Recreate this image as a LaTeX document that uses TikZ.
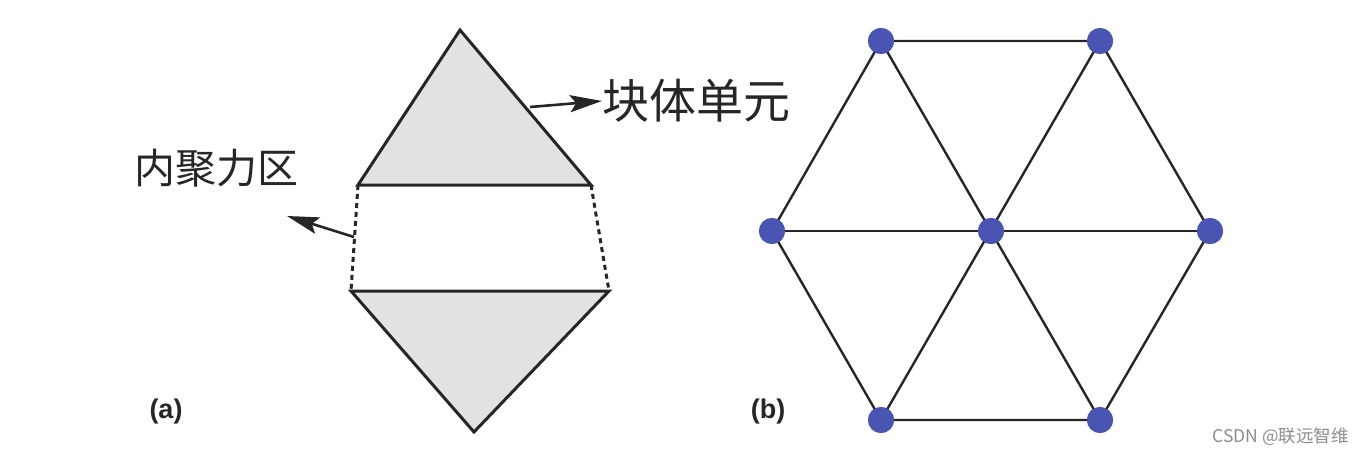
\documentclass[tikz,border=0pt]{standalone}
\usepackage{fontspec}
\setmainfont{Liberation Sans}
\newfontfamily\cjk{Noto Sans CJK SC}
\usetikzlibrary{arrows.meta}
\definecolor{nodeblue}{HTML}{4A55B3}
\definecolor{fillgray}{HTML}{E1E2E4}
\tikzset{
  edge/.style={line width=2.4pt, draw=black!85},
  tri/.style={line width=3pt, draw=black!85, fill=fillgray, line join=miter},
  dashedge/.style={line width=3pt, draw=black!85, dash pattern=on 5pt off 4pt},
  pointer/.style={line width=2.6pt, draw=black!85, -{Stealth[length=32pt,width=17pt,inset=6pt]}},
  vtx/.style={circle, fill=nodeblue, minimum size=26pt, inner sep=0pt},
  lbl/.style={font=\cjk\fontsize{41}{44}\selectfont, text=black!85, inner sep=0pt},
  tag/.style={font=\bfseries\fontsize{27}{30}\selectfont, text=black!85, inner sep=0pt}
}
\begin{document}
\begin{tikzpicture}[x=1pt,y=-1pt]
\useasboundingbox (0,0) rectangle (1363,455);
% (a)
\coordinate (A1) at (460,30);
\coordinate (A2) at (358,185);
\coordinate (A3) at (591,185);
\coordinate (B1) at (351,291);
\coordinate (B2) at (609,291);
\coordinate (B3) at (474,432);
\filldraw[tri] (A1) -- (A2) -- (A3) -- cycle;
\filldraw[tri] (B1) -- (B2) -- (B3) -- cycle;
\draw[dashedge] (A2) -- (B1);
\draw[dashedge] (A3) -- (B2);
\node[lbl, anchor=west, font=\cjk\fontsize{47}{50}\selectfont] (blk) at (602,101) {块体单元};
\node[lbl] (coh) at (216,168) {内聚力区};
\coordinate (p1) at (530,107);
\coordinate (p2) at (354,237);
\coordinate (q2) at (287,216);
\draw[pointer] (p1) -- (blk.west);
\draw[pointer] (p2) -- (q2);
\node[tag] (ta) at (166,412) {(a)};
% (b)
\node[vtx] (n1) at (881,41) {};
\node[vtx] (n2) at (1100,41) {};
\node[vtx] (n3) at (772,231) {};
\node[vtx] (n4) at (991,231) {};
\node[vtx] (n5) at (1210,231) {};
\node[vtx] (n6) at (881,420) {};
\node[vtx] (n7) at (1100,420) {};
\draw[edge] (n1.center) -- (n2.center) -- (n5.center) -- (n7.center) -- (n6.center) -- (n3.center) -- cycle;
\draw[edge] (n1.center) -- (n7.center);
\draw[edge] (n2.center) -- (n6.center);
\draw[edge] (n3.center) -- (n5.center);
\foreach \p in {{881,41},{1100,41},{772,231},{991,231},{1210,231},{881,420},{1100,420}}
  \fill[nodeblue] (\p) circle (13pt);
\node[tag] (tb) at (768,412) {(b)};
\node[font=\cjk\fontsize{17.5}{19}\selectfont, text=black!45, anchor=east, inner sep=0pt] (wm) at (1349,437) {CSDN @联远智维};
\end{tikzpicture}
\end{document}
